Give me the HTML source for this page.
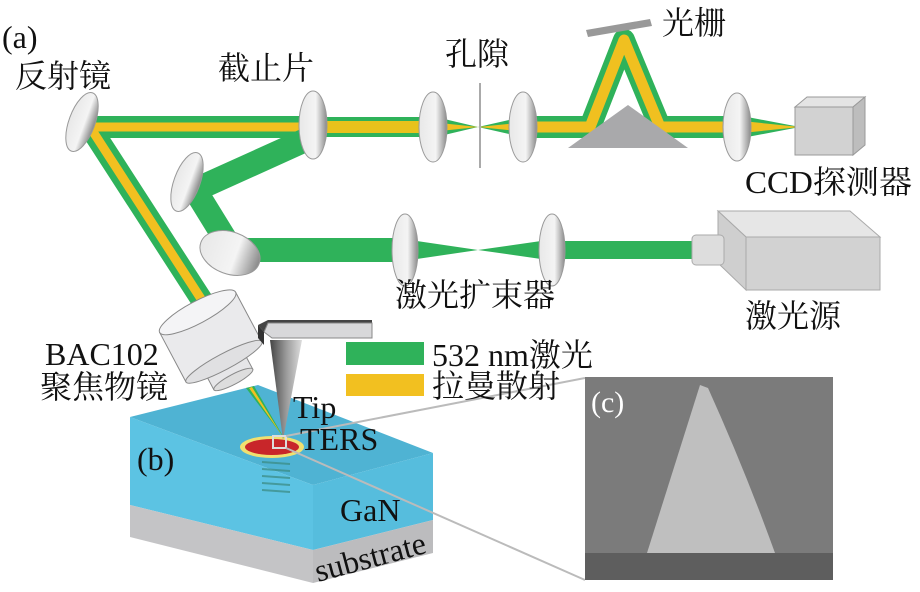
<!DOCTYPE html>
<html><head><meta charset="utf-8"><style>
html,body{margin:0;padding:0;background:#fff;}
svg{display:block;}
text{font-family:"Liberation Serif","Noto Serif CJK SC","Noto Sans CJK SC",serif;fill:#111;}
</style></head><body>
<svg width="920" height="592" viewBox="0 0 920 592" xmlns="http://www.w3.org/2000/svg">
<defs>
<linearGradient id="lens" x1="0" x2="1"><stop offset="0" stop-color="#e8e8e8"/><stop offset="0.6" stop-color="#f4f4f4"/><stop offset="1" stop-color="#888"/></linearGradient>
<linearGradient id="cone" x1="0" x2="1"><stop offset="0" stop-color="#444"/><stop offset="0.5" stop-color="#999"/><stop offset="1" stop-color="#ddd"/></linearGradient>
</defs>

<polygon points="130,417 258,385 433,453 313,485" fill="#4fb3d3"/>
<polygon points="130,417 313,485 313,550 130,505" fill="#5cc3e3"/>
<polygon points="313,485 433,453 433,520 313,550" fill="#56bddd"/>
<polygon points="130,505 313,550 313,583 130,537" fill="#c4c4c6"/>
<polygon points="313,550 433,520 433,553 313,583" fill="#bcbcbe"/>
<ellipse cx="272" cy="447" rx="32" ry="11" fill="#f0e070"/>
<ellipse cx="272" cy="447" rx="27" ry="8" fill="#c8262a"/>
<g stroke="#3a8a80" stroke-width="2" opacity="0.7">
<line x1="262" y1="462" x2="290" y2="464"/><line x1="262" y1="469" x2="290" y2="471"/><line x1="262" y1="476" x2="290" y2="478"/><line x1="262" y1="483" x2="290" y2="485"/><line x1="262" y1="490" x2="290" y2="492"/>
</g>

<g stroke-linecap="round" fill="none">
<polyline points="205,305 90,127 315,127" stroke="#2fb25a" stroke-width="22"/>
<polyline points="205,305 90,127 315,127" stroke="#f2c020" stroke-width="9"/>
<line x1="318" y1="127" x2="432" y2="127" stroke="#2fb25a" stroke-width="20"/>
<line x1="318" y1="127" x2="432" y2="127" stroke="#e8c21c" stroke-width="12"/>
<polyline points="310,138 195,190 232,250 405,250" stroke="#2fb25a" stroke-width="24"/>
<line x1="560" y1="250" x2="700" y2="250" stroke="#2fb25a" stroke-width="18"/>
<polyline points="528,127 590,127 624,40 660,127 735,127" stroke="#2fb25a" stroke-width="22" stroke-linejoin="round"/>
<polyline points="528,127 590,127 624,40 660,127 735,127" stroke="#f0c020" stroke-width="11" stroke-linejoin="round"/>
</g>
<polygon points="440,118 478,127 440,136" fill="#2fb25a"/><polygon points="440,123 478,127 440,131" fill="#f0c020"/>
<polygon points="518,118 478,127 518,136" fill="#2fb25a"/><polygon points="518,123 478,127 518,131" fill="#f0c020"/>
<polygon points="742,116 800,127 742,138" fill="#2fb25a"/><polygon points="742,121 800,127 742,133" fill="#f0c020"/>
<polygon points="410,240 478,250 410,260" fill="#2fb25a"/>
<polygon points="548,240 478,250 548,260" fill="#2fb25a"/>
<polygon points="246,388 254,386 284,438" fill="#2fb25a"/><polygon points="249,388 252,387 283,437" fill="#f0c020"/>
<line x1="480" y1="83" x2="480" y2="168" stroke="#aaa" stroke-width="2"/>
<polygon points="568,148 628,105 688,148" fill="#a9a9ab"/>
<polygon points="586,30 650,19 652,26 588,37" fill="#999"/>
<g fill="url(#lens)" stroke="#999" stroke-width="1">
<ellipse cx="82" cy="122" rx="13" ry="31" transform="rotate(20 82 122)"/>
<ellipse cx="313" cy="125" rx="14" ry="34"/>
<ellipse cx="433" cy="127" rx="14" ry="35"/>
<ellipse cx="523" cy="127" rx="14" ry="35"/>
<ellipse cx="737" cy="127" rx="14" ry="34"/>
<ellipse cx="187" cy="182" rx="13" ry="31" transform="rotate(20 187 182)"/>
<ellipse cx="230" cy="253" rx="31" ry="21" transform="rotate(20 230 253)"/>
<ellipse cx="405" cy="250" rx="13" ry="36"/>
<ellipse cx="552" cy="250" rx="13" ry="36"/>
</g>
<polygon points="795,107 807,97 865,97 853,107" fill="#e4e4e4" stroke="#999"/>
<polygon points="853,107 865,97 865,145 853,155" fill="#bdbdbd" stroke="#999"/>
<rect x="795" y="107" width="58" height="48" fill="#d2d2d2" stroke="#999"/>
<polygon points="718,211 850,211 880,237 746,237" fill="#e6e6e6" stroke="#aaa"/>
<polygon points="718,211 746,237 746,290 718,263" fill="#cfcfcf" stroke="#aaa"/>
<rect x="746" y="237" width="134" height="53" fill="#d2d2d2" stroke="#aaa"/>
<rect x="692" y="235" width="32" height="30" rx="4" fill="#ddd" stroke="#aaa"/>
<g transform="rotate(-28 215 345)">
<rect x="193" y="362" width="44" height="22" fill="#e6e6e8" stroke="#888"/>
<ellipse cx="215" cy="384" rx="22" ry="5" fill="#ddd" stroke="#888"/>
<rect x="172" y="308" width="86" height="56" fill="#eaeaec" stroke="#888"/>
<ellipse cx="215" cy="364" rx="43" ry="8" fill="#e0e0e2" stroke="#888"/>
<ellipse cx="215" cy="308" rx="43" ry="11" fill="#f4f4f6" stroke="#888"/>
</g>
<polygon points="258,325 268,320 372,320 372,323 268,323 264,332" fill="#444"/>
<polygon points="264,332 268,323 372,323 372,338 272,338" fill="#d8d8da" stroke="#888"/>
<polygon points="258,325 264,332 264,345 258,338" fill="#333"/>
<polygon points="270,340 302,340 283,440" fill="url(#cone)"/>
<rect x="273" y="436" width="13" height="12" fill="none" stroke="#ddd" stroke-width="2"/>
<line x1="286" y1="436" x2="585" y2="378" stroke="#bbb" stroke-width="2"/>
<line x1="286" y1="448" x2="585" y2="580" stroke="#bbb" stroke-width="2"/>
<rect x="585" y="377" width="248" height="203" fill="#7b7b7b"/>
<path d="M700,385 L708,388 Q745,470 775,553 L647,553 Z" fill="#bfbfbf"/>
<rect x="585" y="553" width="248" height="27" fill="#5e5e5e"/>
<text x="591" y="412" font-size="30" style="fill:#fff">(c)</text>
<rect x="346" y="342" width="78" height="23" fill="#2fb25a"/>
<rect x="346" y="374" width="78" height="22" fill="#f2c020"/>
<g font-size="32">
<text x="2" y="48">(a)</text>
<text x="15" y="87">反射镜</text>
<text x="218" y="79">截止片</text>
<text x="445" y="65">孔隙</text>
<text x="662" y="34">光栅</text>
<text x="745" y="193" textLength="167" lengthAdjust="spacingAndGlyphs">CCD探测器</text>
<text x="745" y="327">激光源</text>
<text x="395" y="306">激光扩束器</text>
<text x="45" y="365">BAC102</text>
<text x="40" y="398">聚焦物镜</text>
<text x="432" y="366">532 nm激光</text>
<text x="432" y="397">拉曼散射</text>
<text x="293" y="418">Tip</text>
<text x="300" y="450">TERS</text>
<text x="137" y="470">(b)</text>
<text x="340" y="521">GaN</text>
<text x="318" y="582" transform="rotate(-15 318 582)">substrate</text>
</g>
</svg>
</body></html>
